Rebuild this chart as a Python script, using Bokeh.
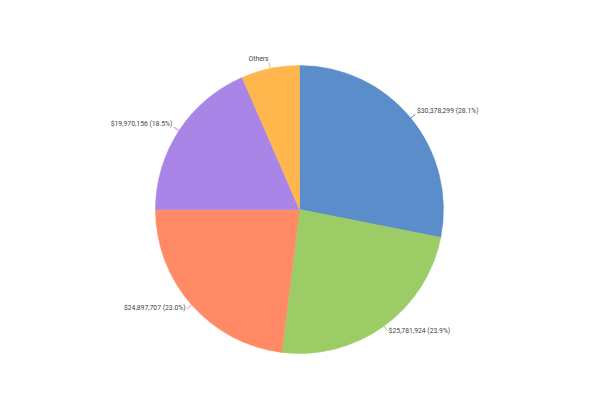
import math
from bokeh.plotting import figure
from bokeh.models import ColumnDataSource, Range1d
from bokeh.embed import file_html
from bokeh.resources import INLINE
from bokeh.core.properties import value

# 数据
labels = ["A", "B", "C", "D", "Others"]
sales = [30378299, 25781924, 24897707, 19970156, 7050000]
colors = ["#5B8DCA", "#9CCC65", "#FF8A65", "#A985E8", "#FFB74D"]
show_value = [True, True, True, True, False]

total = sum(sales)
cx, cy, r = 307, 183, 144

starts, ends, lx0, ly0, lx1, ly1, tx, ty, texts, aligns = [], [], [], [], [], [], [], [], [], []
cum = 0.0
for v, lab, sv in zip(sales, labels, show_value):
    frac = v / total
    a0 = math.pi / 2 - 2 * math.pi * cum
    a1 = math.pi / 2 - 2 * math.pi * (cum + frac)
    mid = (a0 + a1) / 2
    starts.append(a0)
    ends.append(a1)
    c, s = math.cos(mid), math.sin(mid)
    lx0.append(cx + r * c)
    ly0.append(cy + r * s)
    lx1.append(cx + 150 * c)
    ly1.append(cy + 150 * s)
    tx.append(cx + 152 * c)
    ty.append(cy + 152 * s + 2)
    aligns.append("left" if c > 0 else "right")
    texts.append("${:,} ({:.1f}%)".format(v, frac * 100) if sv else lab)
    cum += frac

source = ColumnDataSource(dict(start=starts, end=ends, color=colors))
lines = ColumnDataSource(dict(x0=lx0, y0=ly0, x1=lx1, y1=ly1, color=colors))
left_src = ColumnDataSource(dict(x=[x for x, a in zip(tx, aligns) if a == "left"],
                                 y=[y for y, a in zip(ty, aligns) if a == "left"],
                                 text=[t for t, a in zip(texts, aligns) if a == "left"]))
right_src = ColumnDataSource(dict(x=[x for x, a in zip(tx, aligns) if a == "right"],
                                  y=[y for y, a in zip(ty, aligns) if a == "right"],
                                  text=[t for t, a in zip(texts, aligns) if a == "right"]))

p = figure(width=584, height=384, x_range=Range1d(8, 592), y_range=Range1d(8, 392),
           output_backend="svg", toolbar_location=None, min_border=0)
p.axis.visible = False
p.grid.visible = False
p.outline_line_color = None

p.wedge(x=cx, y=cy, radius=r, start_angle="start", end_angle="end", direction="clock",
        fill_color="color", line_color="color", line_width=0.5, source=source)
p.segment(x0="x0", y0="y0", x1="x1", y1="y1", line_color="color", line_width=1, source=lines)
p.text(x="x", y="y", text="text", source=left_src, text_align="left", text_baseline="middle",
       text_font=value("Roboto"), text_font_size="6.8px", text_color="#444444")
p.text(x="x", y="y", text="text", source=right_src, text_align="right", text_baseline="middle",
       text_font=value("Roboto"), text_font_size="6.8px", text_color="#444444")

open("out.html", "w").write(file_html(p, INLINE))
